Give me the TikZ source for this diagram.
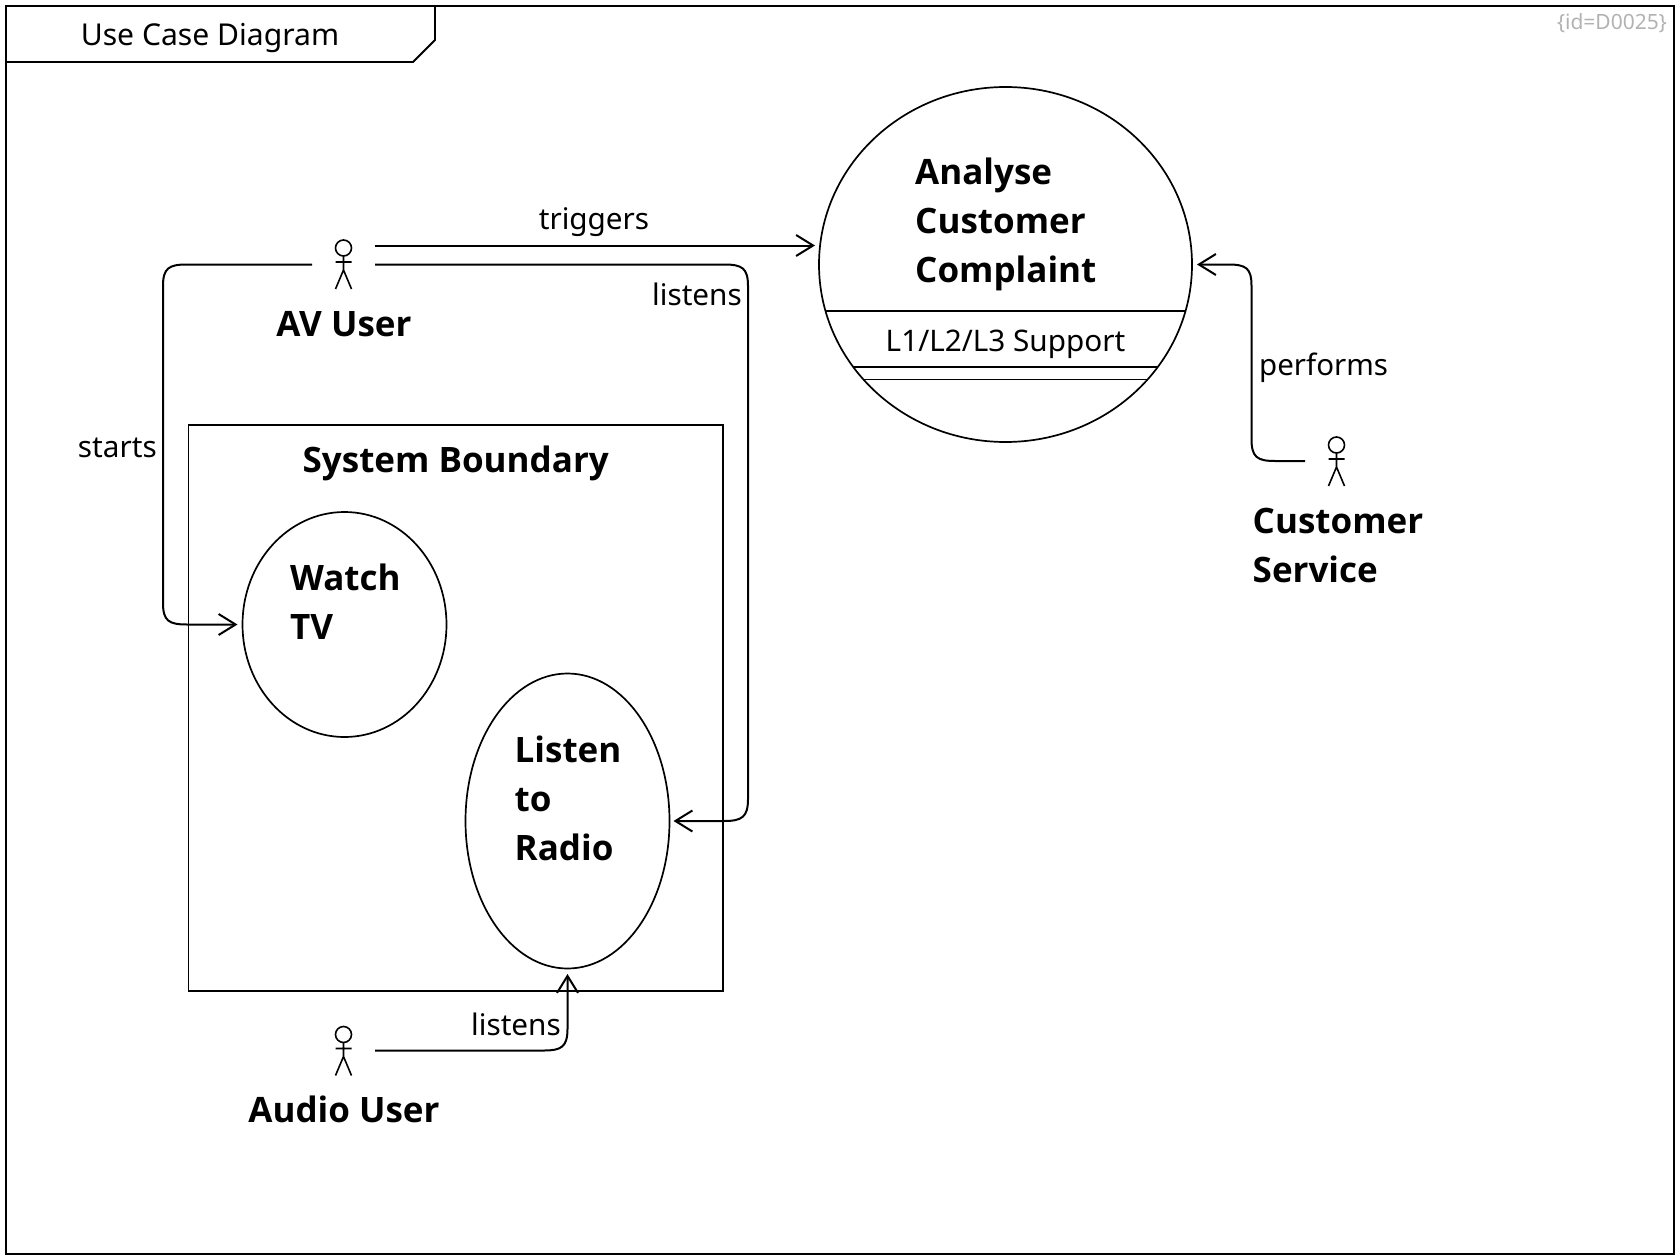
\documentclass[tikz,border=0pt]{standalone}
\usepackage{fontspec}
\setmainfont{Noto Sans}
\newfontfamily\labelbold{Open Sans}[Scale=1.0]
\usetikzlibrary{arrows.meta,shapes.geometric,calc}
\newcommand{\BoldFont}{\labelbold\fontsize{35}{49}\selectfont\bfseries}
\newcommand{\RegFont}{\fontsize{29.7}{41}\selectfont}
\tikzset{
  outline/.style={draw=black,line width=1.8pt,fill=none},
  usecase/.style={ellipse,draw=black,line width=1.7pt,inner sep=0pt},
  boldlabel/.style={font=\BoldFont,inner sep=0pt,align=left,anchor=base west,text=black},
  centertitle/.style={font=\BoldFont,inner sep=0pt,anchor=base,text=black},
  edgelabel/.style={font=\RegFont,inner sep=0pt,text=black},
  conn/.style={draw=black,line width=2pt,-{Straight Barb[length=17pt,width=21pt,line width=2pt]}},
  stick/.style={draw=black,line width=1.6pt},
  actor/.pic={
    \draw[stick] (0,-16) circle (8);
    \draw[stick] (0,-8) -- (0,6) (-8,-2) -- (8,-2) (0,6) -- (-8,25) (0,6) -- (8,25);
  }
}
\begin{document}
\begin{tikzpicture}[x=1pt,y=-1pt]
\useasboundingbox (0,0) rectangle (1680,1260);
% frame
\draw[outline,line width=2pt] (6,6.5) rectangle (1674,1254);
\draw[outline] (6,62) -- (413,62) -- (435,40) -- (435,6.5);
\node[edgelabel,anchor=base,font=\fontsize{30.1}{41}\selectfont] (frametitle) at (210,46) {Use Case Diagram};
\node[anchor=base east,inner sep=0pt,font=\fontsize{21}{26}\selectfont,text=black!30] (idtag) at (1667,30) {\{id=D0025\}};

% analyse use case
\node[usecase,minimum width=373pt,minimum height=355pt] (analyse) at (1005.5,264.5) {};
\begin{scope}
\clip (1005.5,264.5) ellipse [x radius=186.5,y radius=177.5];
\draw[outline] (810,311) -- (1200,311);
\draw[outline,line width=2.2pt] (810,367) -- (1200,367);
\draw[outline] (810,379.5) -- (1200,379.5);
\end{scope}
\node[boldlabel] (analysetext) at (915,282) {Analyse\\Customer\\Complaint};
\node[edgelabel,anchor=base] (support) at (1005.5,351) {L1/L2/L3 Support};

% system boundary
\node[draw=black,line width=1.8pt,minimum width=534.5pt,minimum height=566pt,inner sep=0pt] (boundary) at (455.75,708) {};
\node[centertitle] (boundarytext) at (455.75,472.5) {System Boundary};
\node[usecase,minimum width=204pt,minimum height=225pt] (watch) at (344.5,624.5) {};
\node[boldlabel] (watchtext) at (290,639) {Watch\\TV};
\node[usecase,minimum width=204pt,minimum height=295pt] (radio) at (567.5,821) {};
\node[boldlabel] (radiotext) at (514.5,860) {Listen\\to\\Radio};

% actors
\coordinate (av) at (343.5,264);
\coordinate (cs) at (1336.5,461);
\coordinate (audio) at (343.5,1050.5);
\pic at (av) {actor};
\pic at (cs) {actor};
\pic at (audio) {actor};
\node[centertitle] (avtext) at (344,336) {AV User};
\node[boldlabel] (cstext) at (1252.5,582) {Customer\\Service};
\node[centertitle] (audiotext) at (344,1122) {Audio User};

% connector ends
\coordinate (avtop) at (375,245.5);
\coordinate (avright) at (375,264.5);
\coordinate (avleft) at (312,264.5);
\coordinate (csleft) at (1305,461);
\coordinate (audioright) at (375,1050.5);
\coordinate (analyseW) at (815,245.5);
\coordinate (analyseE) at (1197,264.5);
\coordinate (watchW) at (237.5,624.5);
\coordinate (radioE) at (673.5,821);
\coordinate (radioS) at (567.5,974);

% connectors
\draw[conn] (avtop) -- (analyseW);
\draw[conn] (avright) -- (724,264.5) .. controls (742,264.5) and (748,268) .. (748,286) -- (748,799) .. controls (748,817) and (742,821) .. (724,821) -- (radioE);
\draw[conn] (avleft) -- (187,264.5) .. controls (169,264.5) and (163,268) .. (163,286) -- (163,603) .. controls (163,621) and (169,624.5) .. (187,624.5) -- (watchW);
\draw[conn] (csleft) -- (1275,461) .. controls (1257,461) and (1251.5,457) .. (1251.5,439) -- (1251.5,286) .. controls (1251.5,268) and (1246,264.5) .. (1228,264.5) -- (analyseE);
\draw[conn] (audioright) -- (544,1050.5) .. controls (561,1050.5) and (567.5,1047) .. (567.5,1029) -- (radioS);

% connector labels
\node[edgelabel,anchor=base] (ltriggers) at (594,229) {triggers};
\node[edgelabel,anchor=base east] (llistens) at (742,305.5) {listens};
\node[edgelabel,anchor=base east] (lstarts) at (157,457.5) {starts};
\node[edgelabel,anchor=base west,font=\fontsize{29.5}{41}\selectfont] (lperforms) at (1259,375) {performs};
\node[edgelabel,anchor=base east] (llistens2) at (561,1035) {listens};
\end{tikzpicture}
\end{document}
